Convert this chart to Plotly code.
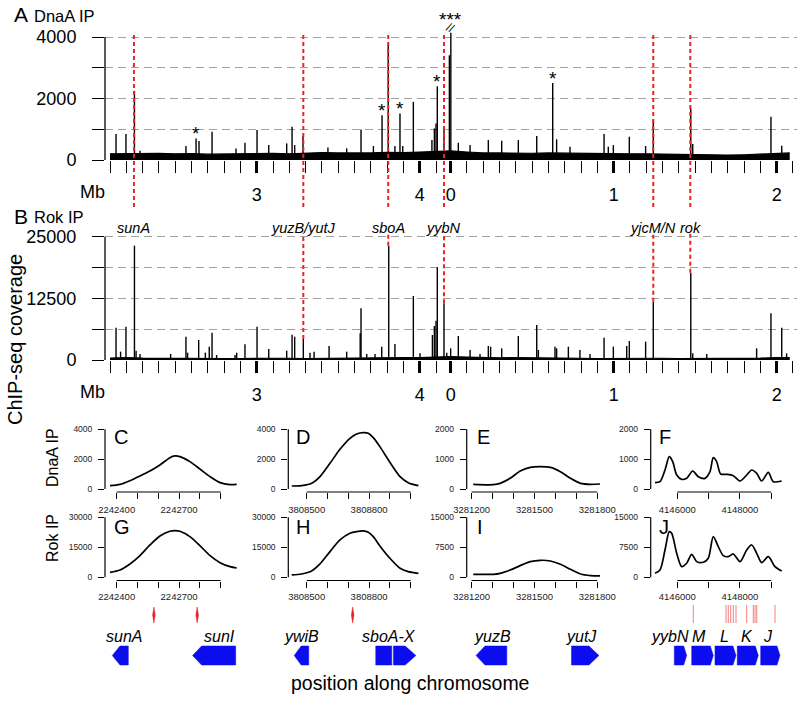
import plotly.graph_objects as go

W, H = 800, 701
FONT = "Liberation Sans, Arial, Helvetica, sans-serif"

# ------------------------------------------------------------------
# DATA  (genome-wide ChIP-seq, positions in Mb of the chromosome)
# ------------------------------------------------------------------
dnaa_peak_mb = [2.137, 2.198, 2.250, 2.284, 2.566, 2.628, 2.646, 2.726, 2.873, 2.928,
                3.002, 3.074, 3.184, 3.217, 3.233, 3.284, 3.437, 3.552, 3.640, 3.716,
                3.769, 3.807, 3.848, 3.879, 3.896, 3.961, 4.075, 4.090, 4.100, 4.108,
                4.149, 4.182, 0.001, 0.047, 0.119, 0.231, 0.313, 0.415, 0.528, 0.626,
                0.650, 0.732, 0.941, 0.967, 0.998, 1.096, 1.196, 1.243, 1.473, 1.485,
                1.965, 2.031]
dnaa_peak_cov = [843, 843, 2248, 300, 454, 703, 616, 919, 378, 562,
                 973, 486, 540, 1081, 486, 778, 410, 378, 994, 454,
                 1459, 3784, 454, 1514, 454, 1892, 650, 1027, 1189, 2400,
                 1081, 3405, 4140, 562, 486, 649, 627, 649, 778, 2508,
                 670, 432, 843, 432, 486, 757, 454, 1330, 1676, 519,
                 1405, 465]

rok_peak_mb = [2.137, 2.165, 2.198, 2.250, 2.260, 2.284, 2.472, 2.566, 2.576, 2.644,
               2.685, 2.709, 2.726, 2.754, 2.867, 2.877, 2.928, 3.002, 3.074, 3.184,
               3.217, 3.233, 3.286, 3.327, 3.352, 3.444, 3.552, 3.635, 3.640, 3.675,
               3.726, 3.767, 3.810, 3.848, 3.961, 4.002, 4.078, 4.090, 4.100, 4.108,
               4.149, 4.166, 0.000, 0.047, 0.119, 0.180, 0.231, 0.245, 0.313, 0.415,
               0.528, 0.538, 0.640, 0.650, 0.722, 0.793, 0.855, 0.941, 0.998, 1.080,
               1.096, 1.196, 1.243, 1.473, 1.485, 1.571, 1.877, 1.965, 2.031, 2.061]
rok_peak_cov = [6554, 1689, 6757, 23176, 1892, 1216, 1216, 4730, 1486, 4054,
                1500, 2703, 5541, 1000, 1000, 1486, 3176, 6757, 2230, 1892,
                5135, 4730, 4257, 1486, 1689, 2838, 1689, 5406, 10473, 1216,
                1216, 2703, 23176, 3243, 12973, 1351, 5068, 6892, 7973, 18784,
                11487, 1486, 2365, 4865, 2027, 1216, 2838, 2703, 2365, 4865,
                7095, 2027, 2703, 2365, 2703, 2027, 1216, 4527, 2703, 2838,
                3851, 3716, 11824, 17703, 1351, 1216, 2365, 9460, 6554, 1351]

# background coverage level (every 0.1 Mb, display order)
base_mb = [2.1, 2.2, 2.3, 2.4, 2.5, 2.6, 2.7, 2.8, 2.9, 3.0, 3.1, 3.2, 3.3, 3.4,
           3.5, 3.6, 3.7, 3.8, 3.9, 4.0, 4.1, 0.0, 0.1, 0.2, 0.3, 0.4, 0.5, 0.6,
           0.7, 0.8, 0.9, 1.0, 1.1, 1.2, 1.3, 1.4, 1.5, 1.6, 1.7, 1.8, 1.9, 2.0, 2.08]
dnaa_base_cov = [200, 210, 230, 220, 200, 210, 190, 200, 210, 230, 220, 200, 220, 240,
                 230, 220, 230, 250, 240, 260, 280, 300, 260, 230, 230, 220, 220, 230,
                 220, 210, 200, 210, 200, 200, 190, 180, 170, 160, 160, 170, 200, 220, 230]
rok_base_cov = [400, 500, 400, 350, 300, 400, 350, 300, 300, 350, 400, 350, 300, 350,
                350, 400, 400, 450, 500, 500, 600, 700, 600, 500, 450, 500, 500, 450,
                400, 350, 300, 350, 400, 400, 350, 300, 300, 250, 250, 300, 400, 500, 500]

axis_major_mb = [3, 4, 0, 1, 2]
axis_major_text = ["3", "4", "0", "1", "2"]

# genes marked with red lines
marker_names = ["sunA", "yuzB/yutJ", "sboA", "yybN", "yjcM/N", "rok"]
marker_mb = [2.247, 3.286, 3.807, 4.149, 1.243, 1.470]
marker_rok_cov = [None, 4257, 23176, 11487, 11824, 17703]

star_mb = [2.628, 3.769, 3.879, 4.108, 0.626]
star_cov = [703, 1459, 1514, 2400, 2508]
triple_star_mb = 0.001
triple_star_cov = 4140

# ------------------------------------------------------------------
# DATA  (zoomed coverage profiles, positions in bp)
# ------------------------------------------------------------------
C_bp = [2242368, 2242416, 2242464, 2242512, 2242560, 2242608, 2242656, 2242680,
        2242704, 2242752, 2242800, 2242849, 2242897, 2242945, 2242977]
C_dnaa = [224, 313, 559, 872, 1207, 1609, 2100, 2213, 2168, 1833, 1341, 827, 425, 291, 313]
G_rok = [2500, 3667, 6667, 10833, 16167, 20667, 23000, 23333, 23000, 20333, 15833,
         10833, 7333, 5333, 4667]

D_bp = [3808428, 3808476, 3808524, 3808564, 3808612, 3808660, 3808708, 3808740,
        3808772, 3808796, 3808820, 3808852, 3808900, 3808949, 3808988, 3809037]
D_dnaa = [201, 224, 380, 827, 1721, 2660, 3397, 3688, 3777, 3732, 3442, 2838, 1788, 827, 425, 224]
H_rok = [1167, 1667, 3167, 6667, 12833, 18667, 22000, 22833, 23167, 22500, 20333,
         15667, 9500, 4500, 2833, 2000]

E_bp = [3281208, 3281304, 3281336, 3281384, 3281432, 3281480, 3281528, 3281576,
        3281624, 3281672, 3281720, 3281768, 3281813]
E_dnaa = [156, 145, 190, 357, 603, 726, 748, 726, 581, 357, 190, 156, 168]
I_rok = [750, 750, 1000, 1833, 2917, 3917, 4250, 4083, 3250, 2000, 833, 417, 333]

F_bp = [4145288, 4145447, 4145607, 4145744, 4145853, 4145981, 4146141, 4146300,
        4146492, 4146671, 4146885, 4147044, 4147150, 4147258, 4147386, 4147578,
        4147789, 4148003, 4148217, 4148376, 4148536, 4148696, 4148906, 4149066, 4149334]
F_dnaa = [212, 246, 637, 1083, 916, 469, 324, 357, 603, 413, 357, 581, 1050, 916,
          503, 491, 447, 268, 469, 637, 525, 268, 559, 246, 268]
J_bp = [4145288, 4145447, 4145607, 4145744, 4145821, 4145981, 4146141, 4146300,
        4146460, 4146620, 4146831, 4146990, 4147150, 4147310, 4147469, 4147629,
        4147789, 4148003, 4148217, 4148376, 4148536, 4148696, 4148906, 4149121, 4149334]
J_rok = [1000, 1833, 6833, 11417, 11000, 6000, 2667, 3500, 5750, 3917, 3750, 4750,
         10167, 7667, 5417, 5167, 5833, 3917, 6833, 8083, 6000, 3667, 5167, 2667, 1583]

panel_letters_top = ["C", "D", "E", "F"]
panel_letters_bot = ["G", "H", "I", "J"]
col_bp_range = [(2242368, 2242977), (3808428, 3809037), (3281208, 3281813), (4145288, 4149335)]
col_ticks = [[2242400, 2242500, 2242600, 2242700, 2242800, 2242900],
             [3808500, 3808600, 3808700, 3808800, 3808900, 3809000],
             [3281200, 3281300, 3281400, 3281500, 3281600, 3281700, 3281800],
             [4146000, 4147000, 4148000, 4149000]]
col_tick_labels = [[2242400, 2242700], [3808500, 3808800],
                   [3281200, 3281500, 3281800], [4146000, 4148000]]
top_ymax = [4000, 4000, 2000, 2000]
bot_ymax = [30000, 30000, 15000, 15000]

# genes
gene_col = [0, 0, 1, 1, 1, 2, 2, 3, 3, 3, 3, 3]
gene_start = [2242379, 2242765, 3808440, 3808832, 3808917, 3281221, 3281677,
              4145904, 4146460, 4147204, 4147916, 4148664]
gene_end = [2242456, 2242972, 3808510, 3808909, 3809025, 3281368, 3281808,
            4146300, 4147150, 4147875, 4148587, 4149280]
gene_strand = ["-", "-", "-", "+", "+", "-", "+", "+", "+", "+", "+", "+"]
gene_label_col = [0, 0, 1, 1, 2, 2, 3, 3, 3, 3, 3]
gene_label_text = ["sunA", "sunI", "ywiB", "sboA-X", "yuzB", "yutJ", "yybN", "M", "L", "K", "J"]
gene_label_bp = [2242435, 2242892, 3808477, 3808896, 3281301, 3281725,
                 4145757, 4146703, 4147523, 4148236, 4148906]

# motif marks
motif_col = [0, 0, 1, 3, 3, 3, 3, 3, 3, 3, 3, 3, 3, 3]
motif_bp = [2242579, 2242787, 3808721, 4146511, 4147556, 4147629, 4147706, 4147789,
            4147875, 4148217, 4148428, 4148482, 4148537, 4149121]

# ------------------------------------------------------------------
# LAYOUT helpers (pixel -> paper)
# ------------------------------------------------------------------
def xp(px):
    return px / W


def yp(py):
    return 1 - py / H


G0, GLEN = 2.1, 4.19


def disp(g):
    return g - G0 if g >= G0 else g + (GLEN - G0)


BIG_X0, PX_PER_MB, BIG_LEFT, BIG_RIGHT = 110, 163.0, 105, 797
big_xrange = [(BIG_LEFT - BIG_X0) / PX_PER_MB, (BIG_RIGHT - BIG_X0) / PX_PER_MB]

tick_u = [disp(2.1 + 0.1 * i) for i in range(21)] + [0.1 * i + (GLEN - G0) for i in range(22)]
major_u = [disp(m) for m in axis_major_mb]

RED = "#ee2222"
BLUE = "#0c0cf0"

fig = go.Figure()


def peak_xy(mbs, covs):
    xs, ys = [], []
    for m, c in zip(mbs, covs):
        u = disp(m)
        xs += [u, u, None]
        ys += [0, c, None]
    return xs, ys


for k, (pk_mb, pk_cov, bcov) in enumerate([(dnaa_peak_mb, dnaa_peak_cov, dnaa_base_cov),
                                           (rok_peak_mb, rok_peak_cov, rok_base_cov)]):
    xa = "x" if k == 0 else "x2"
    ya = "y" if k == 0 else "y2"
    fig.add_trace(go.Scatter(x=[disp(m) for m in base_mb], y=bcov, mode="lines",
                             fill="tozeroy", fillcolor="black",
                             line=dict(color="black", width=1.2),
                             xaxis=xa, yaxis=ya, hoverinfo="skip"))
    px_, py_ = peak_xy(pk_mb, pk_cov)
    fig.add_trace(go.Scatter(x=px_, y=py_, mode="lines",
                             line=dict(color="black", width=1.4),
                             xaxis=xa, yaxis=ya, hoverinfo="skip"))

big = [dict(zero=160, toptick=37, domtop=25, top=4000, step=1000,
            labels=["0", "", "2000", "", "4000"]),
       dict(zero=360, toptick=236.7, domtop=230, top=25000, step=6250,
            labels=["0", "", "12500", "", "25000"])]

layout = dict(width=W, height=H, autosize=False,
              margin=dict(l=0, r=0, t=0, b=0, pad=0, autoexpand=False),
              paper_bgcolor="white", plot_bgcolor="rgba(0,0,0,0)", showlegend=False,
              font=dict(family=FONT, color="black"), hovermode=False)

shapes = []
annotations = []

for k, b in enumerate(big):
    s = (b["zero"] - b["toptick"]) / b["top"]
    yr = [0, (b["zero"] - b["domtop"]) / s]
    xa = "xaxis" if k == 0 else "xaxis2"
    ya = "yaxis" if k == 0 else "yaxis2"
    yname = "y" if k == 0 else "y2"
    layout[xa] = dict(domain=[xp(BIG_LEFT), xp(BIG_RIGHT)], range=big_xrange,
                      anchor=yname, showgrid=False, zeroline=False, showline=False,
                      automargin=False,
                      ticks="outside", ticklen=12, tickwidth=3, tickcolor="black",
                      tickmode="array", tickvals=major_u, ticktext=axis_major_text,
                      tickfont=dict(size=18, family=FONT), ticklabelstandoff=6,
                      minor=dict(tickmode="array", tickvals=tick_u, ticks="outside",
                                 ticklen=12, tickwidth=1.4, tickcolor="black"))
    tv = [b["step"] * i for i in range(5)]
    layout[ya] = dict(domain=[yp(b["zero"]), yp(b["domtop"])], range=yr,
                      anchor="x" if k == 0 else "x2", automargin=False,
                      showgrid=True, gridcolor="#a0a0a0", griddash="8px,5px", gridwidth=1.3,
                      zeroline=False, showline=False,
                      ticks="outside", ticklen=12, tickwidth=1.3, tickcolor="black",
                      tickmode="array", tickvals=tv, ticktext=b["labels"],
                      tickfont=dict(size=18, family=FONT), ticklabelstandoff=12)
    shapes.append(dict(type="line", xref="paper", yref=yname, x0=xp(BIG_LEFT), x1=xp(BIG_LEFT),
                       y0=0, y1=b["top"], line=dict(color="black", width=1.3)))
    annotations.append(dict(text="Mb", xref="paper", yref="paper", x=xp(92),
                            y=yp(b["zero"] + 32), showarrow=False,
                            font=dict(size=18), xanchor="center", yanchor="middle"))

# red marker lines
for name, m, rc in zip(marker_names, marker_mb, marker_rok_cov):
    u = disp(m)
    shapes.append(dict(type="line", xref="x", yref="paper", x0=u, x1=u,
                       y0=yp(35), y1=yp(209), line=dict(color=RED, width=2, dash="4px,3px")))
    if rc is not None:
        shapes.append(dict(type="line", xref="x2", yref="y2", x0=u, x1=u,
                           y0=rc, y1=25690, line=dict(color=RED, width=2, dash="4px,3px")))
    annotations.append(dict(text="<i>%s</i>" % name, xref="x2", yref="paper", x=u, y=yp(227.5),
                            showarrow=False, font=dict(size=14.5), xanchor="center",
                            yanchor="middle"))

for m, c in zip(star_mb, star_cov):
    annotations.append(dict(text="*", xref="x", yref="y", x=disp(m), y=c, showarrow=False,
                            font=dict(size=19), xanchor="center", yanchor="bottom", yshift=-8))
annotations.append(dict(text="***", xref="x", yref="y", x=disp(triple_star_mb), y=triple_star_cov,
                        showarrow=False, font=dict(size=19), xanchor="center",
                        yanchor="bottom", yshift=1))
annotations.append(dict(text="//", xref="x", yref="y", x=disp(triple_star_mb), y=triple_star_cov,
                        showarrow=False, font=dict(size=12), xanchor="center",
                        yanchor="middle", yshift=5, textangle=25))

# ------------------------------------------------------------------
# small panels
# ------------------------------------------------------------------
col_x0 = [110, 291.7, 473.3, 655]
COL_W = 126.7
col_yaxis_px = [105, 288.3, 466.7, 650.7]
rows = [dict(zero=489, toptick=429.3, axis=492, domtop=424, tops=top_ymax,
             letters=panel_letters_top, letter_y=436.7, standoff=3),
        dict(zero=577.3, toptick=517.3, axis=580.5, domtop=512, tops=bot_ymax,
             letters=panel_letters_bot, letter_y=526.7, standoff=1)]
curves = [[(C_bp, C_dnaa), (D_bp, D_dnaa), (E_bp, E_dnaa), (F_bp, F_dnaa)],
          [(C_bp, G_rok), (D_bp, H_rok), (E_bp, I_rok), (J_bp, J_rok)]]

axis_idx = 3
col_xname = [[None] * 4, [None] * 4]
for r, row in enumerate(rows):
    for c in range(4):
        xn, yn = "x%d" % axis_idx, "y%d" % axis_idx
        col_xname[r][c] = xn
        T = row["tops"][c]
        s = (row["zero"] - row["toptick"]) / T
        yr = [-(row["axis"] - row["zero"]) / s, (row["zero"] - row["domtop"]) / s]
        ticks = col_ticks[c]
        bpp = (col_bp_range[c][1] - col_bp_range[c][0]) / COL_W
        dom_l, dom_r = col_yaxis_px[c], col_x0[c] + COL_W + 6
        xr = [col_bp_range[c][0] + (dom_l - col_x0[c]) * bpp,
              col_bp_range[c][0] + (dom_r - col_x0[c]) * bpp]
        layout["xaxis%d" % axis_idx] = dict(
            domain=[xp(dom_l), xp(dom_r)], range=xr, automargin=False,
            anchor=yn, showgrid=False, zeroline=False, showline=False,
            ticks="outside", ticklen=6, tickwidth=1.2, tickcolor="black",
            tickmode="array", tickvals=ticks,
            ticktext=[str(t) if t in col_tick_labels[c] else "" for t in ticks],
            tickfont=dict(size=9.5, color="#222222"), ticklabelstandoff=row["standoff"])
        layout["yaxis%d" % axis_idx] = dict(
            domain=[yp(row["axis"]), yp(row["domtop"])], range=yr, automargin=False,
            anchor=xn, showgrid=False, zeroline=False, showline=False,
            ticks="outside", ticklen=6, tickwidth=1.2, tickcolor="black",
            tickmode="array", tickvals=[0, T / 2, T], ticktext=[str(0), str(int(T / 2)), str(T)],
            tickfont=dict(size=8.5, color="#222222"), ticklabelstandoff=4)
        bx, by = curves[r][c]
        fig.add_trace(go.Scatter(x=bx, y=by, mode="lines",
                                 line=dict(color="black", width=1.7, shape="spline", smoothing=0.8),
                                 xaxis=xn, yaxis=yn, hoverinfo="skip"))
        shapes.append(dict(type="line", xref=xn, yref="paper", x0=ticks[0], x1=ticks[-1],
                           y0=yp(row["axis"]), y1=yp(row["axis"]),
                           line=dict(color="black", width=1.2)))
        shapes.append(dict(type="line", xref="paper", yref=yn, x0=xp(col_yaxis_px[c]),
                           x1=xp(col_yaxis_px[c]), y0=0, y1=T,
                           line=dict(color="black", width=1.2)))
        annotations.append(dict(text=row["letters"][c], xref="paper", yref="paper",
                                x=xp(col_x0[c] + 2), y=yp(row["letter_y"]), showarrow=False,
                                font=dict(size=20), xanchor="left", yanchor="middle"))
        axis_idx += 1

# gene arrows
ARW_TOP, ARW_BOT = 646, 665
tip_px = [7.7, 9, 7, 0, 10.7, 9, 10, 3, 3, 3, 3, 3]
for g in range(len(gene_start)):
    c = gene_col[g]
    xn = col_xname[1][c]
    bp_per_px = (col_bp_range[c][1] - col_bp_range[c][0]) / COL_W
    tip = tip_px[g] * bp_per_px
    a, e = gene_start[g], gene_end[g]
    yt, yb, ym = yp(ARW_TOP), yp(ARW_BOT), yp((ARW_TOP + ARW_BOT) / 2)
    if gene_strand[g] == "-":
        pts = [(a, ym), (a + tip, yt), (e, yt), (e, yb), (a + tip, yb)]
    else:
        pts = [(a, yt), (e - tip, yt), (e, ym), (e - tip, yb), (a, yb)]
    path = "M " + " L ".join("%f,%f" % p for p in pts) + " Z"
    shapes.append(dict(type="path", xref=xn, yref="paper", path=path,
                       fillcolor=BLUE, line=dict(color=BLUE, width=0.5)))

for t, c, bp in zip(gene_label_text, gene_label_col, gene_label_bp):
    annotations.append(dict(text="<i>%s</i>" % t, xref=col_xname[1][c], yref="paper",
                            x=bp, y=yp(636.7), showarrow=False, font=dict(size=16),
                            xanchor="center", yanchor="middle"))

# motif marks
for c, bp in zip(motif_col, motif_bp):
    xn = col_xname[1][c]
    bp_per_px = (col_bp_range[c][1] - col_bp_range[c][0]) / COL_W
    if c == 3:
        shapes.append(dict(type="line", xref=xn, yref="paper", x0=bp, x1=bp,
                           y0=yp(605), y1=yp(623), line=dict(color="#f08080", width=1)))
    else:
        w = 1.3 * bp_per_px
        pts = [(bp, yp(607)), (bp + w, yp(615)), (bp, yp(623)), (bp - w, yp(615))]
        path = "M " + " L ".join("%f,%f" % p for p in pts) + " Z"
        shapes.append(dict(type="path", xref=xn, yref="paper", path=path,
                           fillcolor="#e52020", line=dict(color="#e52020", width=0.5)))

# titles / labels
annotations += [
    dict(text="A", x=xp(12), y=yp(15), font=dict(size=21)),
    dict(text="DnaA IP", x=xp(32), y=yp(16), font=dict(size=16.5)),
    dict(text="B", x=xp(12), y=yp(216.5), font=dict(size=21)),
    dict(text="Rok IP", x=xp(32), y=yp(217), font=dict(size=16.5)),
]
for a in annotations[-4:]:
    a.update(xref="paper", yref="paper", showarrow=False, xanchor="left", yanchor="middle")

annotations += [
    dict(text="ChIP-seq coverage", x=xp(15), y=yp(340), textangle=-90, font=dict(size=20)),
    dict(text="DnaA IP", x=xp(52), y=yp(458), textangle=-90, font=dict(size=16)),
    dict(text="Rok IP", x=xp(52), y=yp(538), textangle=-90, font=dict(size=16)),
    dict(text="position along chromosome", x=xp(410), y=yp(683), font=dict(size=19.5)),
]
for a in annotations[-4:]:
    a.update(xref="paper", yref="paper", showarrow=False, xanchor="center", yanchor="middle")

layout["shapes"] = shapes
layout["annotations"] = annotations
fig.update_layout(**layout)

fig.write_html("out.html", config={"displayModeBar": False},
               post_script="document.body.style.margin='0px';")
